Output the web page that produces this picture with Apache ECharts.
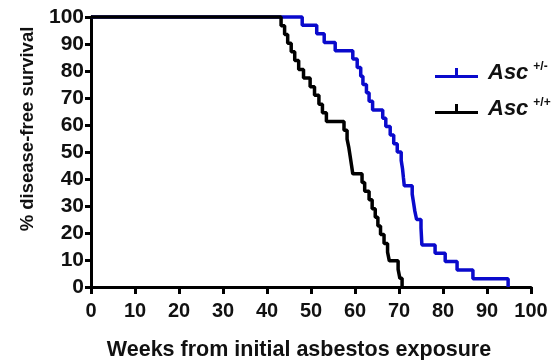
<!DOCTYPE html>
<html>
<head>
<meta charset="utf-8">
<script src="https://cdn.jsdelivr.net/npm/echarts@6/dist/echarts.min.js"></script>
<style>html,body{margin:0;padding:0;background:#fff}#c{width:555px;height:360px}</style>
</head>
<body>
<div id="c"></div>
<script>
// Asc +/- (blue) Kaplan-Meier steps: week where survival changes, and new value
const blueWeeks = [0, 48, 51.3, 53, 55.5, 59.5, 60.5, 61.3, 61.8, 62.6, 63.2, 64, 66.3, 67, 68, 68.8, 69.6, 70.5, 70.8, 71, 71.2, 73, 73.3, 73.6, 74, 75, 75.1, 75.2, 78.2, 80.5, 83.2, 86.8, 94.8];
const blueSurv  = [100, 96.9, 93.8, 90.6, 87.5, 84.4, 81.3, 78.1, 75, 71.9, 68.8, 65.6, 62.5, 59.4, 56.3, 53.1, 50, 46.9, 43.8, 40.6, 37.5, 34.4, 31.3, 28.1, 25, 21.9, 18.8, 15.6, 12.5, 9.4, 6.3, 3.1, 0];
// Asc +/+ (black)
const blackWeeks = [0, 43.2, 44, 44.7, 45.5, 46.3, 47.2, 48.3, 49.8, 50.8, 51.8, 52.6, 53.5, 57.5, 58.2, 58.6, 58.9, 59.2, 59.5, 61.6, 62.2, 63.2, 63.9, 64.6, 65.2, 65.8, 66.6, 67.4, 67.8, 69.8, 70.2, 70.7];
const blackSurv  = [100, 96.8, 93.5, 90.3, 87.1, 83.9, 80.6, 77.4, 74.2, 71, 67.7, 64.5, 61.3, 58.1, 54.8, 51.6, 48.4, 45.2, 41.9, 38.7, 35.5, 32.3, 29, 25.8, 22.6, 19.4, 16.1, 12.9, 9.7, 6.5, 3.2, 0];
const seriesNames = ['Asc +/-', 'Asc +/+'];
const xTicks = [0, 10, 20, 30, 40, 50, 60, 70, 80, 90, 100];
const yTicks = [0, 10, 20, 30, 40, 50, 60, 70, 80, 90, 100];

const zip = (xs, ys) => xs.map((x, i) => [x, ys[i]]);
const font = '"Liberation Sans", Arial, sans-serif';
const legendIcon = 'path://M0,7L43,7L43,10L0,10Z M20,0L23,0L23,10L20,10Z';

const chart = echarts.init(document.getElementById('c'), null, {renderer: 'canvas'});
chart.setOption({
  animation: false,
  backgroundColor: '#fff',
  grid: {left: 91, right: 24, top: 17, bottom: 73, outerBoundsMode: 'none'},
  legend: {
    orient: 'vertical', left: 430, top: 56,
    itemWidth: 43, itemHeight: 10, itemGap: 13,
    icon: legendIcon,
    data: seriesNames,
    formatter: function (name) {
      const p = name.split(' ');
      return '{a|' + p[0] + '}{b|' + p[1] + '}';
    },
    textStyle: {
      rich: {
        a: {fontFamily: font, fontSize: 22, fontWeight: 'bold', fontStyle: 'italic', color: '#111', lineHeight: 26, padding: [0, 0, 0, 5]},
        b: {fontFamily: font, fontSize: 12, fontWeight: 'bold', color: '#111', padding: [0, 0, 12, 5]}
      }
    }
  },
  xAxis: {
    type: 'value', min: xTicks[0], max: xTicks[xTicks.length - 1], interval: 10,
    name: 'Weeks from initial asbestos exposure', nameLocation: 'middle', nameGap: 52,
    nameTextStyle: {fontFamily: font, fontSize: 21.5, fontWeight: 'bold', color: '#111', padding: [0, 24, 0, 0]},
    axisLine: {onZero: false, lineStyle: {color: '#000', width: 3}},
    axisTick: {length: 7, lineStyle: {color: '#000', width: 3}},
    axisLabel: {fontFamily: font, fontSize: 20, fontWeight: 'bold', color: '#111', margin: 14},
    splitLine: {show: false}
  },
  yAxis: {
    type: 'value', min: yTicks[0], max: yTicks[yTicks.length - 1], interval: 10,
    name: '% disease-free survival', nameLocation: 'middle', nameGap: 54,
    nameTextStyle: {fontFamily: font, fontSize: 18.5, fontWeight: 'bold', color: '#111', padding: [0, 0, 0, 46]},
    axisLine: {lineStyle: {color: '#000', width: 3}},
    axisTick: {length: 6, lineStyle: {color: '#000', width: 3}},
    axisLabel: {fontFamily: font, fontSize: 21, fontWeight: 'bold', color: '#111', margin: 7},
    splitLine: {show: false}
  },
  series: [
    {name: seriesNames[0], type: 'line', step: 'end', symbol: 'none', clip: false,
     color: '#0a0acc', lineStyle: {width: 3.5, color: '#0a0acc'}, data: zip(blueWeeks, blueSurv)},
    {name: seriesNames[1], type: 'line', step: 'end', symbol: 'none', clip: false,
     color: '#000', lineStyle: {width: 3.5, color: '#000'}, data: zip(blackWeeks, blackSurv)}
  ]
});
</script>
</body>
</html>
